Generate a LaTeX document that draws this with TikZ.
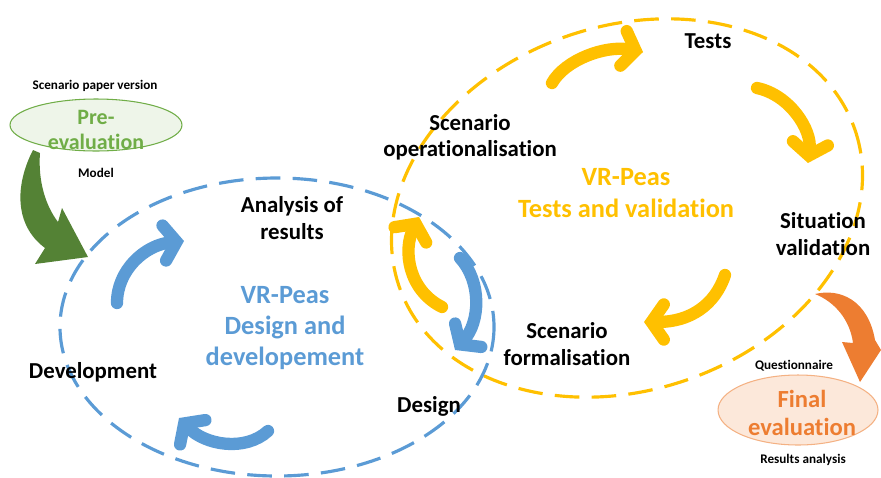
\documentclass[tikz,border=0pt]{standalone}
\usepackage{fontspec}
\setmainfont{Carlito}[Ligatures=NoCommon]
\usetikzlibrary{arrows.meta,shapes.geometric}
\definecolor{vrblue}{HTML}{5B9BD5}
\definecolor{vryellow}{HTML}{FFC000}
\definecolor{vrorange}{HTML}{ED7D31}
\definecolor{vrgreen}{HTML}{70AD47}
\definecolor{vrdkgreen}{HTML}{548235}
\tikzset{
every node/.style={inner sep=0pt, align=center},
step label/.style={font=\fontsize{13}{15}\selectfont\bfseries},
small label/.style={font=\fontsize{7.5}{9}\selectfont\bfseries},
title label/.style={font=\fontsize{15}{17.8}\selectfont\bfseries},
loop line/.style={line width=1.8pt, dash pattern=on 14pt off 7pt},
cycle arrow/.style={line width=7pt, line cap=round,
    -{Straight Barb[length=7pt, width=20pt, line cap=round]}},
}

\begin{document}
\begin{tikzpicture}[x=0.02cm, y=-0.02cm]
        \useasboundingbox (0,0) rectangle (881,477);
        % the two loops
        \draw[loop line, vryellow] (627,208) ellipse[x radius=241, y radius=182, rotate=19];
        \draw[loop line, vrblue] (277,327) ellipse[x radius=217, y radius=149];
        % steps
        \node[step label] (1) at (292,218) {Analysis of\\results};
        \node[step label] (2) at (429,406) {Design};
        \node[step label] (3) at (93,372) {Development};
        \node[step label] (4) at (470,137) {Scenario\\operationalisation};
        \node[step label] (5) at (708,41) {Tests};
        \node[step label] (6) at (823,234) {Situation\\validation};
        \node[step label] (7) at (567,344) {Scenario\\formalisation};
        \node[title label, text=vrblue] (8) at (285,328) {VR-Peas\\Design and\\developement};
        \node[title label, text=vryellow] (9) at (626,193) {VR-Peas\\Tests and validation};
        % evaluations
        \node[draw=vrgreen, fill=vrgreen!12, ellipse, minimum width=3.44cm, minimum height=1.04cm, line width=0.6pt] (10) at (96,125) {};
        \node[font=\fontsize{12.5}{14}\selectfont\bfseries, text=vrgreen] (11) at (96,130) {Pre-\\evaluation};
        \node[small label] (12) at (95,86) {Scenario paper version};
        \node[small label] (13) at (96,173) {Model};
        \node[draw=vrorange!60, fill=vrorange!18, ellipse, minimum width=3.2cm, minimum height=1.4cm, line width=0.6pt] (14) at (798,410) {};
        \node[font=\fontsize{14}{15.5}\selectfont\bfseries, text=vrorange] (15) at (802,413) {Final\\evaluation};
        \node[small label] (16) at (794,366) {Questionnaire};
        \node[small label] (17) at (803,460) {Results analysis};
        % big arrows in and out
        \fill[vrdkgreen] (33,150) .. controls (15,185) and (14,225) .. (45,248) -- (35,264) -- (88,257)
            -- (62,208) -- (58,222) .. controls (45,205) and (38,180) .. (40,153) -- cycle;
        \fill[vrorange] (815,294) .. controls (840,288) and (868,300) .. (875,340) -- (881,350) -- (860,382)
            -- (842,342) -- (853,343) .. controls (850,320) and (835,302) .. (815,294) -- cycle;
        % cycle arrows
        \coordinate (b1s) at (117,303); \coordinate (b1e) at (184,241);
        \coordinate (b2s) at (268,431); \coordinate (b2e) at (179,418);
        \coordinate (b3s) at (460,258); \coordinate (b3e) at (455,350);
        \coordinate (y1s) at (442,307); \coordinate (y1e) at (419,217);
        \coordinate (y2s) at (552,83); \coordinate (y2e) at (643,52);
        \coordinate (y3s) at (757,88); \coordinate (y3e) at (808,163);
        \coordinate (y4s) at (725,275); \coordinate (y4e) at (644,322);
        \draw[cycle arrow, vrblue] (b1s) .. controls (117,270) and (145,245) .. (b1e);
        \draw[cycle arrow, vrblue] (b2s) .. controls (245,452) and (205,445) .. (b2e);
        \draw[cycle arrow, vrblue] (b3s) .. controls (482,282) and (480,322) .. (b3e);
        \draw[cycle arrow, vryellow] (y1s) .. controls (408,290) and (403,250) .. (y1e);
        \draw[cycle arrow, vryellow] (y2s) .. controls (565,60) and (605,45) .. (y2e);
        \draw[cycle arrow, vryellow] (y3s) .. controls (790,95) and (812,130) .. (y3e);
        \draw[cycle arrow, vryellow] (y4s) .. controls (715,305) and (690,322) .. (y4e);
    \end{tikzpicture}
\end{document}
